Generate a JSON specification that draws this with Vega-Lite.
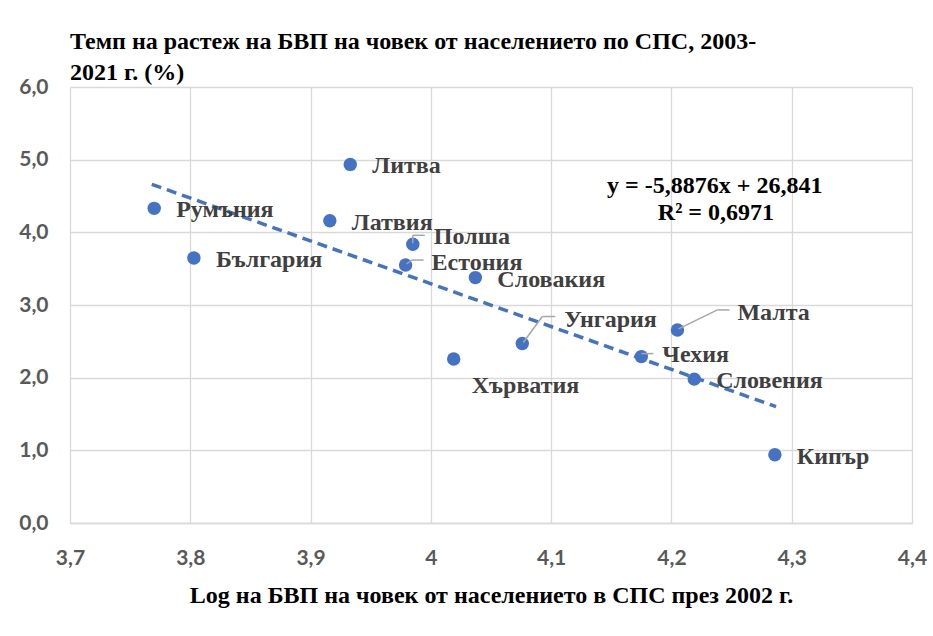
{
  "$schema": "https://vega.github.io/schema/vega-lite/v6.json",
  "autosize": "none",
  "width": 842,
  "height": 436,
  "padding": {"left": 70, "top": 87, "right": 21, "bottom": 113},
  "background": "white",
  "title": {
    "text": ["Темп на растеж на БВП на човек от населението по СПС, 2003-", "2021 г. (%)"],
    "anchor": "start",
    "frame": "group",
    "font": "Liberation Serif",
    "fontSize": 24,
    "fontWeight": "bold",
    "color": "#000000",
    "lineHeight": 31,
    "offset": -9
  },
  "config": {
    "view": {"stroke": null},
    "axis": {
      "gridColor": "#d9d9d9",
      "gridWidth": 1.3,
      "ticks": false,
      "labelFont": "Lato",
      "labelFontWeight": "bold",
      "labelFontSize": 21,
      "labelColor": "#595959",
      "labelFlush": false,
      "titleFont": "Liberation Serif",
      "titleFontWeight": "bold",
      "titleFontSize": 24,
      "titleColor": "#000000"
    },
    "text": {"font": "Liberation Serif", "fontWeight": "bold", "fontSize": 24}
  },
  "datasets": {
    "pts": [
      {"c": "Литва", "x": 3.933, "y": 4.935},
      {"c": "Румъния", "x": 3.770, "y": 4.33},
      {"c": "Латвия", "x": 3.916, "y": 4.16},
      {"c": "Полша", "x": 3.985, "y": 3.835},
      {"c": "Естония", "x": 3.979, "y": 3.55},
      {"c": "Словакия", "x": 4.037, "y": 3.377},
      {"c": "България", "x": 3.803, "y": 3.647},
      {"c": "Унгария", "x": 4.076, "y": 2.47},
      {"c": "Хърватия", "x": 4.019, "y": 2.258},
      {"c": "Малта", "x": 4.205, "y": 2.657},
      {"c": "Чехия", "x": 4.175, "y": 2.29},
      {"c": "Словения", "x": 4.219, "y": 1.98},
      {"c": "Кипър", "x": 4.286, "y": 0.94}
    ],
    "eq": [
      {"t1": "y = -5,8876x + 26,841", "t2": "R² = 0,6971"}
    ]
  },
  "layer": [
    {
      "data": {"name": "pts"},
      "transform": [{"regression": "y", "on": "x", "method": "linear", "extent": [3.768, 4.287]}],
      "mark": {"type": "line", "color": "#4472C4", "strokeWidth": 3.5, "strokeDash": [10, 6]},
      "encoding": {
        "x": {
          "field": "x", "type": "quantitative",
          "scale": {"domain": [3.7, 4.4], "nice": false, "zero": false},
          "axis": {
            "values": [3.7, 3.8, 3.9, 4.0, 4.1, 4.2, 4.3, 4.4],
            "labelExpr": "replace(format(datum.value, '.1~f'), '.', ',')",
            "domainColor": "#d9d9d9",
            "domainWidth": 1.3,
            "labelPadding": 24,
            "title": "Log на БВП на човек от населението в СПС през 2002 г.",
            "titlePadding": 15
          }
        },
        "y": {
          "field": "y", "type": "quantitative",
          "scale": {"domain": [0, 6], "nice": false},
          "axis": {
            "values": [0, 1, 2, 3, 4, 5, 6],
            "labelExpr": "replace(format(datum.value, '.1f'), '.', ',')",
            "domain": false,
            "labelPadding": 22,
            "title": null
          }
        }
      }
    },
    {
      "data": {"name": "pts"},
      "mark": {"type": "circle", "color": "#4472C4", "opacity": 1, "size": 180},
      "encoding": {"x": {"field": "x", "type": "quantitative"}, "y": {"field": "y", "type": "quantitative"}}
    },
    {
      "data": {"name": "pts"},
      "transform": [{"filter": "indexof(['Полша','Естония','Унгария','Малта','Чехия','Хърватия'], datum.c) < 0"}],
      "mark": {"type": "text", "align": "left", "baseline": "middle", "dx": 22, "dy": 2, "color": "#404040"},
      "encoding": {"x": {"field": "x", "type": "quantitative"}, "y": {"field": "y", "type": "quantitative"}, "text": {"field": "c"}}
    },
    {
      "data": {"name": "pts"},
      "transform": [{"filter": "datum.c == 'Хърватия'"}],
      "mark": {"type": "text", "align": "left", "baseline": "middle", "dx": 18, "dy": 27, "color": "#404040"},
      "encoding": {"x": {"field": "x", "type": "quantitative"}, "y": {"field": "y", "type": "quantitative"}, "text": {"field": "c"}}
    },
    {
      "data": {"name": "pts"},
      "transform": [{"filter": "datum.c == 'Полша'"}],
      "mark": {"type": "text", "align": "left", "baseline": "middle", "dx": 21, "dy": -7, "color": "#404040"},
      "encoding": {"x": {"field": "x", "type": "quantitative"}, "y": {"field": "y", "type": "quantitative"}, "text": {"field": "c"}}
    },
    {
      "data": {"name": "pts"},
      "transform": [{"filter": "datum.c == 'Естония'"}],
      "mark": {"type": "text", "align": "left", "baseline": "middle", "dx": 26, "dy": -2, "color": "#404040"},
      "encoding": {"x": {"field": "x", "type": "quantitative"}, "y": {"field": "y", "type": "quantitative"}, "text": {"field": "c"}}
    },
    {
      "data": {"name": "pts"},
      "transform": [{"filter": "datum.c == 'Унгария'"}],
      "mark": {"type": "text", "align": "left", "baseline": "middle", "dx": 42, "dy": -24, "color": "#404040"},
      "encoding": {"x": {"field": "x", "type": "quantitative"}, "y": {"field": "y", "type": "quantitative"}, "text": {"field": "c"}}
    },
    {
      "data": {"name": "pts"},
      "transform": [{"filter": "datum.c == 'Малта'"}],
      "mark": {"type": "text", "align": "left", "baseline": "middle", "dx": 60, "dy": -17, "color": "#404040"},
      "encoding": {"x": {"field": "x", "type": "quantitative"}, "y": {"field": "y", "type": "quantitative"}, "text": {"field": "c"}}
    },
    {
      "data": {"name": "pts"},
      "transform": [{"filter": "datum.c == 'Чехия'"}],
      "mark": {"type": "text", "align": "left", "baseline": "middle", "dx": 21, "dy": -2, "color": "#404040"},
      "encoding": {"x": {"field": "x", "type": "quantitative"}, "y": {"field": "y", "type": "quantitative"}, "text": {"field": "c"}}
    },
    {
      "data": {"name": "pts"},
      "transform": [{"filter": "datum.c == 'Полша'"}],
      "mark": {"type": "rule", "color": "#a6a6a6", "strokeWidth": 1.5, "xOffset": 0, "yOffset": -1, "x2Offset": 0, "y2Offset": -9},
      "encoding": {"x": {"field": "x", "type": "quantitative"}, "y": {"field": "y", "type": "quantitative"}, "x2": {"field": "x"}, "y2": {"field": "y"}}
    },
    {
      "data": {"name": "pts"},
      "transform": [{"filter": "datum.c == 'Полша'"}],
      "mark": {"type": "rule", "color": "#a6a6a6", "strokeWidth": 1.5, "xOffset": 0, "yOffset": -9, "x2Offset": 12, "y2Offset": -9},
      "encoding": {"x": {"field": "x", "type": "quantitative"}, "y": {"field": "y", "type": "quantitative"}, "x2": {"field": "x"}, "y2": {"field": "y"}}
    },
    {
      "data": {"name": "pts"},
      "transform": [{"filter": "datum.c == 'Естония'"}],
      "mark": {"type": "rule", "color": "#a6a6a6", "strokeWidth": 1.5, "xOffset": 1, "yOffset": -1, "x2Offset": 6, "y2Offset": -5},
      "encoding": {"x": {"field": "x", "type": "quantitative"}, "y": {"field": "y", "type": "quantitative"}, "x2": {"field": "x"}, "y2": {"field": "y"}}
    },
    {
      "data": {"name": "pts"},
      "transform": [{"filter": "datum.c == 'Естония'"}],
      "mark": {"type": "rule", "color": "#a6a6a6", "strokeWidth": 1.5, "xOffset": 6, "yOffset": -5, "x2Offset": 18, "y2Offset": -5},
      "encoding": {"x": {"field": "x", "type": "quantitative"}, "y": {"field": "y", "type": "quantitative"}, "x2": {"field": "x"}, "y2": {"field": "y"}}
    },
    {
      "data": {"name": "pts"},
      "transform": [{"filter": "datum.c == 'Унгария'"}],
      "mark": {"type": "rule", "color": "#a6a6a6", "strokeWidth": 1.5, "xOffset": 1, "yOffset": -1, "x2Offset": 20, "y2Offset": -27},
      "encoding": {"x": {"field": "x", "type": "quantitative"}, "y": {"field": "y", "type": "quantitative"}, "x2": {"field": "x"}, "y2": {"field": "y"}}
    },
    {
      "data": {"name": "pts"},
      "transform": [{"filter": "datum.c == 'Унгария'"}],
      "mark": {"type": "rule", "color": "#a6a6a6", "strokeWidth": 1.5, "xOffset": 20, "yOffset": -27, "x2Offset": 33, "y2Offset": -27},
      "encoding": {"x": {"field": "x", "type": "quantitative"}, "y": {"field": "y", "type": "quantitative"}, "x2": {"field": "x"}, "y2": {"field": "y"}}
    },
    {
      "data": {"name": "pts"},
      "transform": [{"filter": "datum.c == 'Малта'"}],
      "mark": {"type": "rule", "color": "#a6a6a6", "strokeWidth": 1.5, "xOffset": 1, "yOffset": -1, "x2Offset": 40, "y2Offset": -20},
      "encoding": {"x": {"field": "x", "type": "quantitative"}, "y": {"field": "y", "type": "quantitative"}, "x2": {"field": "x"}, "y2": {"field": "y"}}
    },
    {
      "data": {"name": "pts"},
      "transform": [{"filter": "datum.c == 'Малта'"}],
      "mark": {"type": "rule", "color": "#a6a6a6", "strokeWidth": 1.5, "xOffset": 40, "yOffset": -20, "x2Offset": 52, "y2Offset": -20},
      "encoding": {"x": {"field": "x", "type": "quantitative"}, "y": {"field": "y", "type": "quantitative"}, "x2": {"field": "x"}, "y2": {"field": "y"}}
    },
    {
      "data": {"name": "pts"},
      "transform": [{"filter": "datum.c == 'Чехия'"}],
      "mark": {"type": "rule", "color": "#a6a6a6", "strokeWidth": 1.5, "xOffset": 0, "yOffset": -3, "x2Offset": 12, "y2Offset": -3},
      "encoding": {"x": {"field": "x", "type": "quantitative"}, "y": {"field": "y", "type": "quantitative"}, "x2": {"field": "x"}, "y2": {"field": "y"}}
    },
    {
      "data": {"name": "eq"},
      "mark": {"type": "text", "align": "center", "baseline": "middle", "color": "#000000"},
      "encoding": {"x": {"datum": 4.236, "type": "quantitative"}, "y": {"datum": 4.64, "type": "quantitative"}, "text": {"field": "t1"}}
    },
    {
      "data": {"name": "eq"},
      "mark": {"type": "text", "align": "center", "baseline": "middle", "color": "#000000"},
      "encoding": {"x": {"datum": 4.237, "type": "quantitative"}, "y": {"datum": 4.27, "type": "quantitative"}, "text": {"field": "t2"}}
    }
  ]
}
